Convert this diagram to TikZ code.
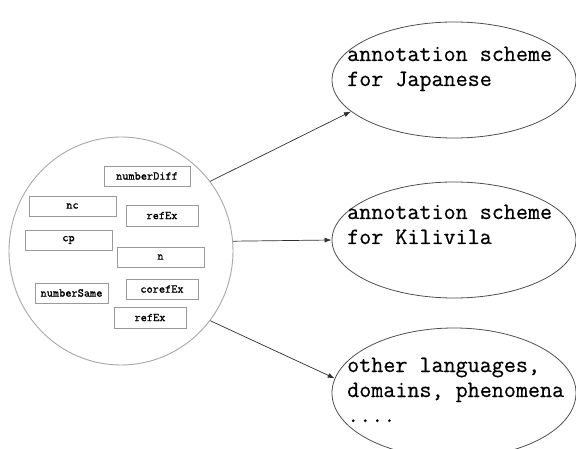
\documentclass[tikz,border=0pt]{standalone}
\usepackage{fontspec}
\newfontfamily\tagfont{Latin Modern Mono}[FakeBold=1.2]
\newfontfamily\bigfont{Latin Modern Mono}[FakeBold=0.4]
\usetikzlibrary{shapes.geometric,arrows.meta}
\definecolor{circgray}{HTML}{A8A8A8}
\definecolor{boxgray}{HTML}{9A9A9A}
\definecolor{ellgray}{HTML}{505050}
\definecolor{arrgray}{HTML}{303030}
\tikzset{
  tagbox/.style={draw=boxgray, line width=0.8pt, fill=white, rectangle, minimum height=20pt, inner sep=0pt,
    font=\tagfont\fontsize{12}{14}\selectfont\bfseries},
  bigell/.style={draw=ellgray, line width=0.8pt, ellipse, minimum width=244pt, minimum height=116pt, inner sep=0pt},
  bigtext/.style={anchor=base west, inner sep=0pt, align=left,
    font=\bigfont\fontsize{23.4}{25}\selectfont},
  conn/.style={draw=arrgray, line width=0.7pt, -{Latex[length=7pt,width=5pt]}}
}
\begin{document}
\begin{tikzpicture}[x=1pt,y=-1pt]
\useasboundingbox[fill=white] (0,0) rectangle (576,449);
% source circle
\node[draw=circgray, line width=0.9pt, ellipse, minimum width=224pt, minimum height=228pt, inner sep=0pt] (c) at (121,251) {};
% tag boxes
\node[tagbox, minimum width=86pt] (b1) at (147,176) {numberDiff};
\node[tagbox, minimum width=87pt] (b2) at (72.5,206) {nc};
\node[tagbox, minimum width=72pt, minimum height=21pt] (b3) at (162,215.5) {refEx};
\node[tagbox, minimum width=87pt] (b4) at (68.5,240) {cp};
\node[tagbox, minimum width=87pt] (b5) at (160.5,257) {n};
\node[tagbox, minimum width=73pt] (b6) at (71.5,293) {numberSame};
\node[tagbox, minimum width=72pt] (b7) at (162,289) {corefEx};
\node[tagbox, minimum width=72pt, minimum height=21pt] (b8) at (150,317.5) {refEx};
% target ellipses
\node[bigell] (e1) at (454,80) {};
\node[bigell] (e2) at (454,240) {};
\node[bigell, minimum height=130pt] (e3) at (454,393) {};
\node[bigtext] (t1) at (347,86) {annotation scheme\\for Japanese};
\node[bigtext] (t2) at (347,244) {annotation scheme\\for Kilivila};
\node[bigtext] (t3) at (347,422) {other languages,\\domains, phenomena\\....};
% connectors
\draw[conn] (c.38) -- (e1.197);
\draw[conn] (c.5) -- (e2.180);
\draw[conn] (c.-38) -- (e3.173);
\end{tikzpicture}
\end{document}
